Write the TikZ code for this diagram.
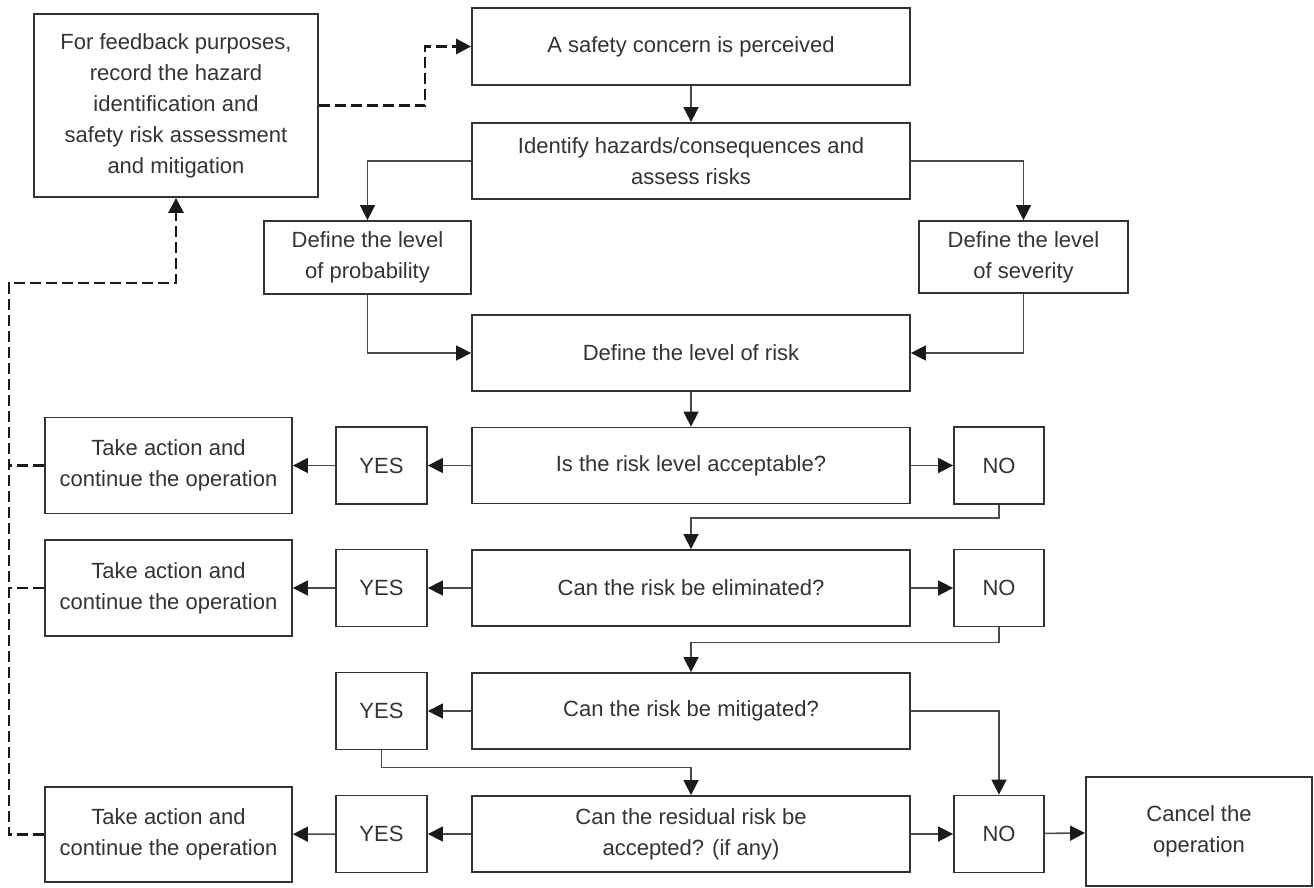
\documentclass[tikz,border=0pt]{standalone}
\usepackage{fontspec}
\setmainfont{Liberation Sans}
\usetikzlibrary{arrows.meta}
\definecolor{ln}{HTML}{333333}
\definecolor{lg}{HTML}{4A4A4A}
\definecolor{ah}{HTML}{1A1A1A}
\begin{document}
\begin{tikzpicture}[x=1pt,y=-1pt,
  box/.style={draw=ln,line width=1.8pt,rectangle,inner sep=0pt,align=center,text=ln,
    font=\fontsize{22}{31}\selectfont},
  conn/.style={draw=lg,line width=1.6pt,-{Triangle[length=15pt,width=15pt,color=ah]}},
  dsh/.style={draw=ah,line width=2.8pt,dash pattern=on 11pt off 5pt},
  dsharr/.style={dsh,-{Triangle[length=15pt,width=15pt,color=ah]}}]
\useasboundingbox (0,0) rectangle (1314,888);
% boxes
\node[box,minimum width=284pt,minimum height=183pt] (fb) at (176,105.5)
  {For feedback purposes,\\record the hazard\\identification and\\safety risk assessment\\and mitigation};
\node[box,minimum width=438pt,minimum height=77pt] (concern) at (691,46.5) {A safety concern is perceived};
\node[box,minimum width=438pt,minimum height=76pt] (ident) at (691,161) {Identify hazards/consequences and\\assess risks};
\node[box,minimum width=207pt,minimum height=73pt] (prob) at (367.5,257.5) {Define the level\\of probability};
\node[box,minimum width=209pt,minimum height=72pt] (sev) at (1023.5,257) {Define the level\\of severity};
\node[box,minimum width=438pt,minimum height=76pt] (risk) at (691,353) {Define the level of risk};
\node[box,minimum width=438pt,minimum height=76pt] (d1) at (691,465.5) {Is the risk level acceptable?};
\node[box,minimum width=438pt,minimum height=76pt] (d2) at (691,588) {Can the risk be eliminated?};
\node[box,minimum width=438pt,minimum height=76pt] (d3) at (691,711) {Can the risk be mitigated?};
\node[box,minimum width=438pt,minimum height=76pt] (d4) at (691,834) {Can the residual risk be\\accepted? (if any)};
\node[box,minimum width=91pt,minimum height=77pt] (y1) at (381.5,465.5) {YES};
\node[box,minimum width=91pt,minimum height=77pt] (y2) at (381.5,588) {YES};
\node[box,minimum width=91pt,minimum height=77pt] (y3) at (381.5,711) {YES};
\node[box,minimum width=91pt,minimum height=77pt] (y4) at (381.5,834) {YES};
\node[box,minimum width=90pt,minimum height=77pt] (n1) at (999,465.5) {NO};
\node[box,minimum width=90pt,minimum height=77pt] (n2) at (999,588) {NO};
\node[box,minimum width=90pt,minimum height=77pt] (n3) at (999,834) {NO};
\node[box,minimum width=247pt,minimum height=96pt] (a1) at (168.5,465.5) {Take action and\\continue the operation};
\node[box,minimum width=247pt,minimum height=96pt] (a2) at (168.5,588) {Take action and\\continue the operation};
\node[box,minimum width=247pt,minimum height=95pt] (a4) at (168.5,834.5) {Take action and\\continue the operation};
\node[box,minimum width=226pt,minimum height=109pt] (cancel) at (1199,831.5) {Cancel the\\operation};
% coordinates
\coordinate (L) at (9,0);
\coordinate (top) at (9,283);
\coordinate (fbx) at (425,0);
% solid connectors
\draw[conn] (concern) -- (ident);
\draw[conn] (ident.west) -| (prob.north);
\draw[conn] (ident.east) -| (sev.north);
\draw[conn] (prob.south) |- (risk.west);
\draw[conn] (sev.south) |- (risk.east);
\draw[conn] (risk) -- (d1);
\draw[conn] (d1) -- (y1);
\draw[conn] (y1) -- (a1);
\draw[conn] (d1) -- (n1);
\draw[conn] (n1.south) -- ++(0,13) -| (d2.north);
\draw[conn] (d2) -- (y2);
\draw[conn] (y2) -- (a2);
\draw[conn] (d2) -- (n2);
\draw[conn] (n2.south) -- ++(0,15) -| (d3.north);
\draw[conn] (d3) -- (y3);
\draw[conn] (d3.east) -| (n3.north);
\draw[conn] (y3.south) -- ++(0,17) -| (d4.north);
\draw[conn] (d4) -- (y4);
\draw[conn] (y4) -- (a4);
\draw[conn] (d4) -- (n3);
\draw[conn] (n3) -- (cancel);
% dashed feedback
\draw[dsharr] (fb.east) -- (fb.east -| fbx) |- (concern.west);
\draw[dsharr] (a4.west) -- (a4.west -| L) -- (top) -| (fb.south);
\draw[dsh] (a1.west) -- (a1.west -| L);
\draw[dsh] (a2.west) -- (a2.west -| L);
\end{tikzpicture}
\end{document}
